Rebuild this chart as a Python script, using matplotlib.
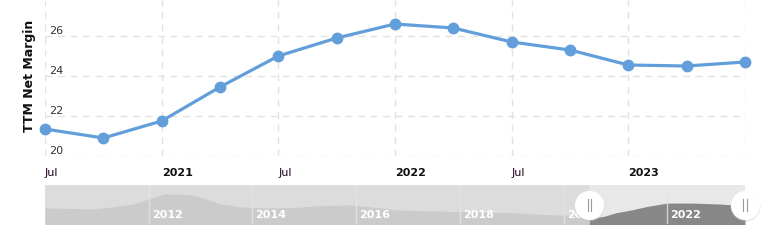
import matplotlib
matplotlib.use("Agg")
import matplotlib.pyplot as plt
import matplotlib.transforms as mtransforms
import numpy as np

# Datos trimestrales (margen neto TTM, %)
quarters = ["2020-07", "2020-10", "2021-01", "2021-04", "2021-07", "2021-10", "2022-01",
            "2022-04", "2022-07", "2022-10", "2023-01", "2023-04", "2023-07"]
margin = [21.35, 20.9, 21.75, 23.45, 25.0, 25.9, 26.6, 26.4, 25.7, 25.3, 24.55, 24.5, 24.7]

x_ticks = [2020.5, 2021.0, 2021.5, 2022.0, 2022.5, 2023.0, 2023.5]
x_labels = ["Jul", "2021", "Jul", "2022", "Jul", "2023", ""]
y_ticks = [20, 22, 24, 26]

# Navegador (serie historica aproximada)
nav_years = [2010.0, 2010.5, 2010.9, 2011.3, 2011.7, 2012.0, 2012.3, 2012.8, 2013.1, 2013.4,
             2013.8, 2014.2, 2014.8, 2015.3, 2015.9, 2016.3, 2016.8, 2017.5, 2018.3, 2019.0,
             2019.6, 2020.2, 2020.5, 2020.8, 2021.0, 2021.3, 2021.6, 2022.0, 2022.5, 2023.0, 2023.5]
nav_values = [24.85, 24.7, 24.5, 25.2, 26.1, 27.7, 29.3, 29.1, 27.7, 26.1,
              25.2, 24.85, 25.0, 25.6, 25.8, 25.2, 24.2, 23.9, 23.6, 23.4,
              22.8, 22.5, 21.4, 22.3, 23.3, 24.2, 25.3, 26.4, 26.4, 26.1, 25.6]
nav_ticks = [2012, 2014, 2016, 2018, 2020, 2022]
sel_start, sel_end = 2020.5, 2023.5


def dec_year(s):
    y, m = s.split("-")
    return int(y) + (int(m) - 1) / 12.0


x = [dec_year(q) for q in quarters]

W, H = 777, 242
fig = plt.figure(figsize=(W / 100, H / 100), dpi=100)
plt.rcParams['font.family'] = ['DejaVu Sans']

# ---- grafica principal
ax = fig.add_axes([45 / W, (H - 156) / H, 700 / W, 156 / H])
ax.set_xlim(2020.5, 2023.5)
ax.set_ylim(20, 27.8)
for s in ax.spines.values():
    s.set_visible(False)
ax.set_xticks(x_ticks)
ax.set_yticks(y_ticks)
ax.grid(True, color="#e2e2e2", linestyle=(0, (5, 4)), linewidth=1)
ax.tick_params(length=0)
ax.set_yticklabels([])
ax.set_xticklabels(x_labels, fontsize=8)
off = mtransforms.ScaledTranslation(3 / 100, 0, fig.dpi_scale_trans)
for lbl, t in zip(ax.get_xticklabels(), x_labels):
    lbl.set_horizontalalignment("left")
    lbl.set_transform(lbl.get_transform() + off)
    if t != "Jul":
        lbl.set_fontweight("bold")
        lbl.set_color("#111111")
    else:
        lbl.set_color("#220022")
ax.tick_params(axis="x", pad=9)

ytr = mtransforms.blended_transform_factory(ax.transAxes, ax.transData)
yoff = mtransforms.ScaledTranslation(4 / 100, 5 / 100, fig.dpi_scale_trans)
for v in y_ticks:
    ax.text(0, v, str(v), transform=ytr + yoff, fontsize=8, color="#333333",
            ha="left", va="center")

ax.plot(x, margin, color="#629fda", linewidth=2.3, marker="o", markersize=7.5,
        solid_capstyle="round", clip_on=False, zorder=3)

fig.text(29 / W, 1 - 76 / H, "TTM Net Margin", rotation=90, fontsize=9,
         fontweight="bold", ha="center", va="center", color="#111111")

# ---- navegador
nav = fig.add_axes([45 / W, (H - 224) / H, 700 / W, 39 / H])
nav.set_xlim(2010.0, 2023.5)
nav.set_ylim(19.8, 32.1)
nav.set_facecolor("#dcdcdc")
for s in nav.spines.values():
    s.set_visible(False)
nav.set_xticks([])
nav.set_yticks([])

nav.axvspan(sel_start, sel_end, color="#e8e8e8", zorder=0)
ny = np.array(nav_years)
nv = np.array(nav_values)
left = ny <= sel_start
right = ny >= sel_start
nav.fill_between(ny[left], 0, nv[left], color="#cbcbcb", linewidth=0, zorder=1)
nav.fill_between(ny[right], 0, nv[right], color="#878787", linewidth=0, zorder=1)
for t in nav_ticks:
    nav.axvline(t, color="#e6e6e6", linewidth=1, alpha=0.8, zorder=2)
    nav.text(t + 0.06, 0.22, str(t), transform=nav.get_xaxis_transform(),
             color="white", fontsize=8, fontweight="bold", ha="left", va="center", zorder=2)

# manijas
for hx in [sel_start, sel_end]:
    nav.plot([hx], [0.45], transform=nav.get_xaxis_transform(), marker="o",
             markersize=21.5, color="#c4c4c4", alpha=0.45, markeredgewidth=0,
             clip_on=False, zorder=4)
    nav.plot([hx], [0.49], transform=nav.get_xaxis_transform(), marker="o",
             markersize=21, color="white", markeredgewidth=0, clip_on=False, zorder=5)
    for dx in [-0.03, 0.03]:
        nav.plot([hx + dx, hx + dx], [0.34, 0.64], transform=nav.get_xaxis_transform(),
                 color="#999999", linewidth=0.8, clip_on=False, zorder=6)

plt.savefig("out.png", dpi=100)
